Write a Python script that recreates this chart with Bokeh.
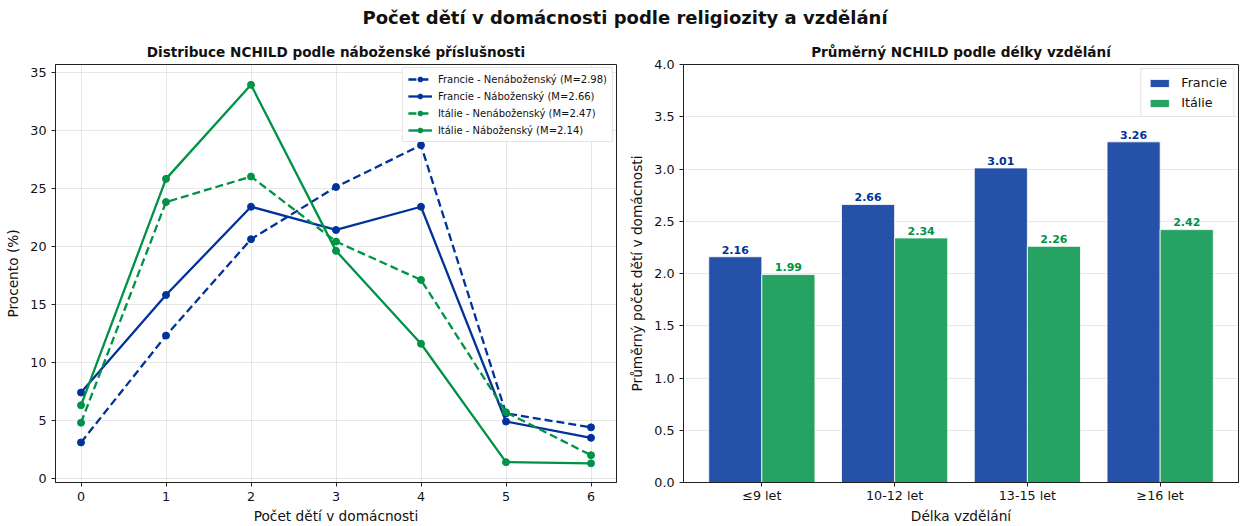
import numpy as np
from bokeh.plotting import figure
from bokeh.models import Div, Legend, LegendItem, FixedTicker, Range1d, NumeralTickFormatter
from bokeh.layouts import column, row
from bokeh.embed import file_html
from bokeh.resources import INLINE
from bokeh.core.properties import value

# ---------------- data ----------------
nchild = [0, 1, 2, 3, 4, 5, 6]
fr_nonrel = [3.1, 12.3, 20.6, 25.1, 28.7, 5.6, 4.4]
fr_rel = [7.4, 15.8, 23.4, 21.4, 23.4, 4.9, 3.5]
it_nonrel = [4.8, 23.8, 26.0, 20.4, 17.1, 5.7, 2.0]
it_rel = [6.3, 25.8, 33.9, 19.6, 11.6, 1.4, 1.3]
series_labels = ["Francie - Nenáboženský (M=2.98)", "Francie - Náboženský (M=2.66)",
                 "Itálie - Nenáboženský (M=2.47)", "Itálie - Náboženský (M=2.14)"]

edu_cats = ["≤9 let", "10-12 let", "13-15 let", "≥16 let"]
edu_fr = [2.16, 2.66, 3.01, 3.26]
edu_it = [1.99, 2.34, 2.26, 2.42]

BLUE = "#003399"
GREEN = "#009246"
FONT = "DejaVu Sans"
INK = "#111111"

def style(p):
    p.title.text_font = FONT
    p.title.text_font_style = "bold"
    p.title.text_font_size = "13.6px"
    p.title.text_color = INK
    p.title.align = "center"
    p.outline_line_color = "#222222"
    p.outline_line_width = 1
    for ax in (p.xaxis, p.yaxis):
        ax.axis_label_text_font = FONT
        ax.axis_label_text_font_style = "normal"
        ax.axis_label_text_font_size = "13.7px"
        ax.axis_label_text_color = INK
        ax.major_label_text_font = FONT
        ax.major_label_text_font_size = "12.7px"
        ax.major_label_text_color = INK
        ax.axis_line_color = "#222222"
        ax.major_tick_line_color = "#222222"
        ax.major_tick_out = 4
        ax.major_tick_in = 0
        ax.minor_tick_line_color = None
    p.xaxis.axis_label_standoff = 4
    p.yaxis.axis_label_standoff = 6
    p.grid.grid_line_color = "#b0b0b0"
    p.grid.grid_line_alpha = 0.3

H = 490

# ---------------- left plot ----------------
p1 = figure(width=626, height=H, output_backend="svg", toolbar_location=None,
            title="Distribuce NCHILD podle náboženské příslušnosti",
            x_range=Range1d(-0.3, 6.3), y_range=Range1d(-0.35, 35.65),
            min_border_left=55, min_border_right=10, min_border_top=5, min_border_bottom=2)
style(p1)
p1.xaxis.ticker = FixedTicker(ticks=nchild)
p1.yaxis.ticker = FixedTicker(ticks=list(range(0, 36, 5)))
p1.xaxis.axis_label = "Počet dětí v domácnosti"
p1.yaxis.axis_label = "Procento (%)"

items = []
for vals, col, dash, lab in [(fr_nonrel, BLUE, "8 4", series_labels[0]),
                             (fr_rel, BLUE, "solid", series_labels[1]),
                             (it_nonrel, GREEN, "8 4", series_labels[2]),
                             (it_rel, GREEN, "solid", series_labels[3])]:
    r1 = p1.line(nchild, vals, line_color=col, line_width=2.3, line_dash=dash)
    r2 = p1.scatter(nchild, vals, size=7, fill_color=col, line_color=col)
    items.append(LegendItem(label=lab, renderers=[r1, r2]))
leg1 = Legend(items=items, location="top_right", label_text_font=FONT,
              label_text_font_size="10px", label_text_color=INK,
              glyph_width=24, glyph_height=12,
              label_height=12, spacing=5, padding=5, margin=3,
              border_line_color="#cccccc", background_fill_alpha=0.9,
              label_standoff=6)
p1.add_layout(leg1)

# ---------------- right plot ----------------
xi = np.arange(len(edu_cats))
p2 = figure(width=614, height=H, output_backend="svg", toolbar_location=None,
            title="Průměrný NCHILD podle délky vzdělání",
            x_range=Range1d(-0.59, 3.59), y_range=Range1d(0, 4.0),
            min_border_left=53, min_border_right=2, min_border_top=5, min_border_bottom=2)
style(p2)
p2.xgrid.grid_line_color = None
p2.xaxis.ticker = FixedTicker(ticks=list(xi))
p2.xaxis.major_label_overrides = {int(i): c for i, c in zip(xi, edu_cats)}
p2.xaxis.major_label_standoff = 1
p2.xaxis.axis_label_standoff = 2
p2.yaxis.ticker = FixedTicker(ticks=[i * 0.5 for i in range(9)])
p2.yaxis.formatter = NumeralTickFormatter(format="0.0")
p2.xaxis.axis_label = "Délka vzdělání"
p2.yaxis.axis_label = "Průměrný počet dětí v domácnosti"

b1 = p2.vbar(x=xi - 0.2, top=edu_fr, width=0.4, fill_color=BLUE, fill_alpha=0.85,
             line_color="white", line_width=0.8)
b2 = p2.vbar(x=xi + 0.2, top=edu_it, width=0.4, fill_color=GREEN, fill_alpha=0.85,
             line_color="white", line_width=0.8)
p2.text(x=xi - 0.2, y=[v + 0.03 for v in edu_fr], text=[f"{v:.2f}" for v in edu_fr],
        text_align="center", text_baseline="bottom", text_color=BLUE,
        text_font=value(FONT), text_font_style="bold", text_font_size="11px")
p2.text(x=xi + 0.2, y=[v + 0.03 for v in edu_it], text=[f"{v:.2f}" for v in edu_it],
        text_align="center", text_baseline="bottom", text_color=GREEN,
        text_font=value(FONT), text_font_style="bold", text_font_size="11px")
leg2 = Legend(items=[LegendItem(label="Francie", renderers=[b1]),
                     LegendItem(label="Itálie", renderers=[b2])],
              location="top_right", label_text_font=FONT, label_text_font_size="12.7px",
              label_text_color=INK,
              glyph_width=24, glyph_height=10, label_height=14, spacing=5, padding=6,
              margin=4, border_line_color="#cccccc", label_standoff=10)
p2.add_layout(leg2)

title = Div(text="Počet dětí v domácnosti podle religiozity a vzdělání",
            width=1240, height=26,
            styles={"font-family": FONT, "font-weight": "bold", "font-size": "18px",
                    "text-align": "center", "width": "1200px", "padding-left": "40px",
                    "color": INK})

layout = column(title, row(p1, p2))
open("out.html", "w").write(file_html(layout, INLINE))
